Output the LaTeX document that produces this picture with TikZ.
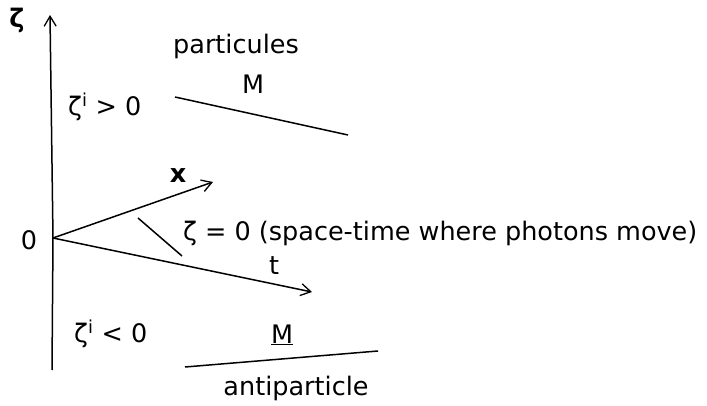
\documentclass[tikz,border=0pt]{standalone}
\usepackage{fontspec}
\setmainfont{DejaVu Sans}
\usetikzlibrary{arrows.meta, positioning}

\begin{document}
\begin{tikzpicture}[
    x=1pt, y=-1pt,
    lbl/.style={font=\fontsize{25.5}{30}\selectfont, inner sep=0pt},
    bold/.style={font=\fontsize{25.5}{30}\selectfont\bfseries, inner sep=0pt},
    axis/.style={line width=1.5pt, black},
    arr/.style={-{Straight Barb[length=10pt, width=12pt, line width=1.3pt]}, line width=1.5pt, black},
    sheet/.style={line width=1.5pt, black},
]
\useasboundingbox (0,0) rectangle (707,406);

% === axes ===
\coordinate (O) at (53,238);
\coordinate (ztop) at (50,15);
\coordinate (zbot) at (52,370);
\coordinate (xtip) at (213,182);
\coordinate (ttip) at (312,292);

\draw[axis] (zbot) -- (O);
\draw[arr] (O) -- (ztop);
\draw[arr] (O) -- (xtip);
\draw[arr] (O) -- (ttip);

\node[bold] (zeta) at (17,20) {ζ};
\node[lbl] (orig) at (29,240) {0};
\node[bold] (xlab) at (178,176) {x};
\node[lbl] (tlab) at (274,266) {t};

% photon space-time pointer
\coordinate (p1) at (138,218);
\coordinate (p2) at (182,256);
\draw[sheet] (p1) -- (p2);
\node[lbl, anchor=west] (photon) at (183,233) {ζ = 0 (space-time where photons move)};

% === upper sheet: particules ===
\node[lbl, anchor=west] (zpos) at (68,107) {ζ\textsuperscript{i} > 0};
\node[lbl] (part) at (236,46) {particules};
\node[lbl] (Mup) at (253,84) {M};
\coordinate (u1) at (175,97);
\coordinate (u2) at (348,135);
\draw[sheet] (u1) -- (u2);

% === lower sheet: antiparticle ===
\node[lbl, anchor=west] (zneg) at (74,334) {ζ\textsuperscript{i} < 0};
\node[lbl] (Mdown) at (282,335) {\underline{M}};
\coordinate (d1) at (185,367);
\coordinate (d2) at (378,351);
\draw[sheet] (d1) -- (d2);
\node[lbl] (anti) at (296,388) {antiparticle};

\end{tikzpicture}
\end{document}
